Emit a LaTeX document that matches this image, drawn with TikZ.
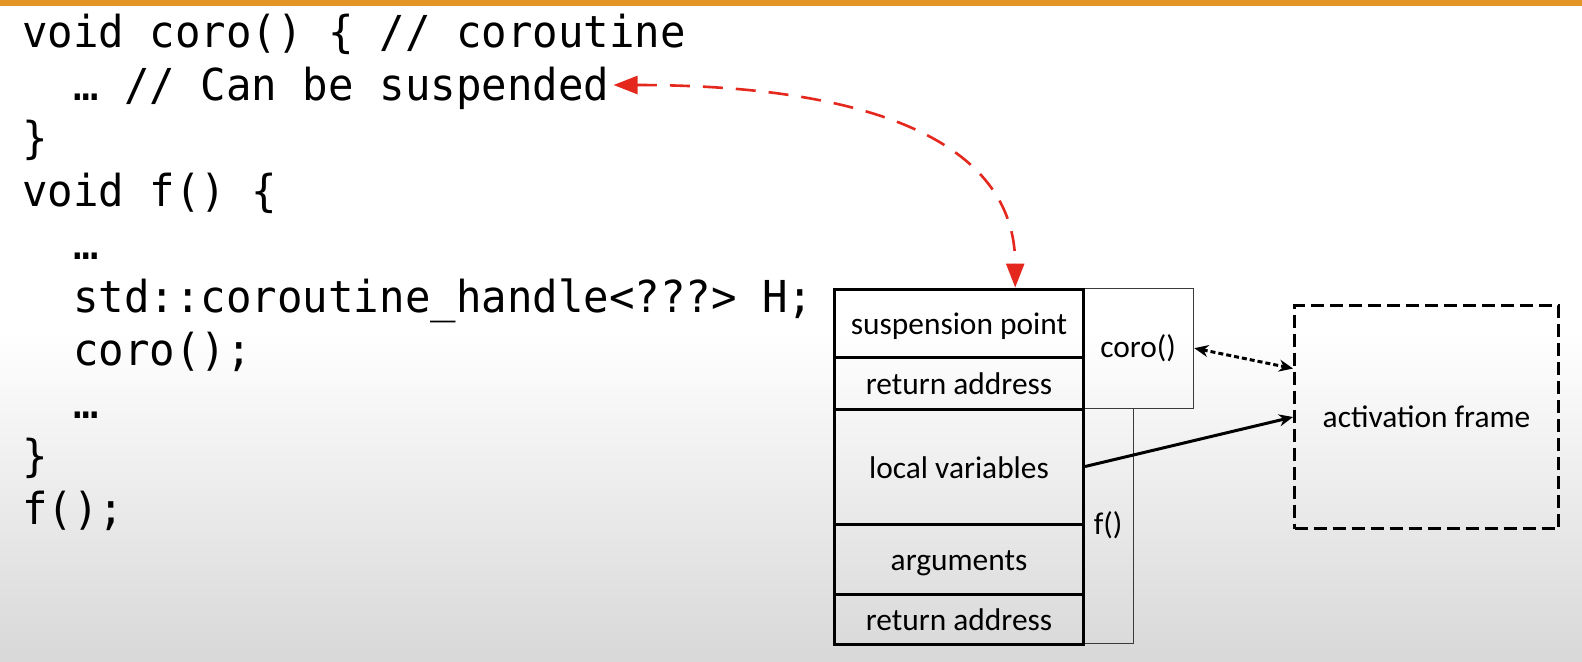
\documentclass[tikz,border=0pt]{standalone}
\usepackage{fontspec}
\setmainfont{Carlito}
\newfontfamily\codefont{DejaVu Sans Mono}[FakeStretch=0.963]
\usetikzlibrary{arrows.meta,calc}

\definecolor{barorange}{HTML}{E39525}
\definecolor{linkred}{HTML}{E5281D}
\definecolor{thinline}{HTML}{3A3A3A}
\definecolor{bgbottom}{HTML}{D8D8D8}

\tikzset{
  blacktip/.tip={Stealth[length=7pt,width=6pt]},
  redtip/.tip={Triangle[length=12pt,width=9pt]}
}

\begin{document}
\begin{tikzpicture}[x=0.5pt,y=-0.5pt,
  code/.style={anchor=base west, inner sep=0pt,
    font=\codefont\fontsize{22pt}{24pt}\selectfont},
  slot/.style={draw, line width=1.5pt, minimum width=124.5pt, anchor=north west,
    inner sep=0pt, text height=11.5pt, text depth=0pt,
    font=\fontsize{15.7pt}{18pt}\selectfont},
  framebox/.style={draw=thinline, line width=0.65pt, anchor=north west, inner sep=0pt,
    font=\fontsize{15.7pt}{18pt}\selectfont}
]
% background with a soft gradient towards the bottom and the orange top bar
\useasboundingbox (0,0) rectangle (1582,661);
\fill[white] (0,0) rectangle (1582,661);
\shade[top color=white, bottom color=bgbottom] (0,330) rectangle (1582,661);
\fill[barorange] (0,0) rectangle (1582,6);

% source code
\node[code] (c1)  at (22,47)  {void coro() \{ // coroutine};
\node[code] (c2)  at (73,100) {… // Can be suspended};
\node[code] (c3)  at (22,153) {\}};
\node[code] (c4)  at (22,206) {void f() \{};
\node[code] (c5)  at (73,259) {…};
\node[code] (c6)  at (73,312) {std::coroutine\_handle<???> H;};
\node[code] (c7)  at (73,365) {coro();};
\node[code] (c8)  at (73,418) {…};
\node[code] (c9)  at (22,471) {\}};
\node[code] (c10) at (22,524) {f();};

% frame brackets
\node[framebox, minimum width=55.5pt, minimum height=60pt] (coro) at (1082,287.5) {coro()};
\node[framebox, minimum width=25.5pt, minimum height=117.5pt] (fbox) at (1082,407.5) {f()};

% stack slots
\node[slot, minimum height=34.25pt] (sp)   at (833,287.5) {suspension point};
\node[slot, minimum height=25.75pt] (ra1)  at (833,356)   {return address};
\node[slot, minimum height=57.5pt]  (lv)   at (833,407.5) {local variables};
\node[slot, minimum height=35.25pt] (args) at (833,522.5) {arguments};
\node[slot, minimum height=24.75pt] (ra2)  at (833,593)   {return address};

% heap activation frame
\node[draw, line width=1.5pt, dash pattern=on 6.5pt off 3pt, anchor=north west,
  minimum width=132pt, minimum height=111.5pt, inner sep=0pt,
  font=\fontsize{15.7pt}{18pt}\selectfont] (af) at (1293,304) {activation frame};

% connectors
\draw[line width=1.5pt, dash pattern=on 2.5pt off 1.5pt, blacktip-blacktip]
  (coro.east) -- ([yshift=24.25pt]af.west);
\draw[line width=1.5pt, -blacktip] (lv.east) -- (af.west);

\coordinate (hook) at ($(sp.north west)!0.723!(sp.north east)$);
\draw[linkred, line width=1.3pt, dash pattern=on 10pt off 6.5pt, redtip-redtip]
  ([shift={(2pt,7.5pt)}]c2.base east)
  .. controls ($([shift={(2pt,7.5pt)}]c2.base east)+(126.5pt,0)$)
         and ($(hook)+(0,73.75pt)$) .. (hook);
\end{tikzpicture}
\end{document}
